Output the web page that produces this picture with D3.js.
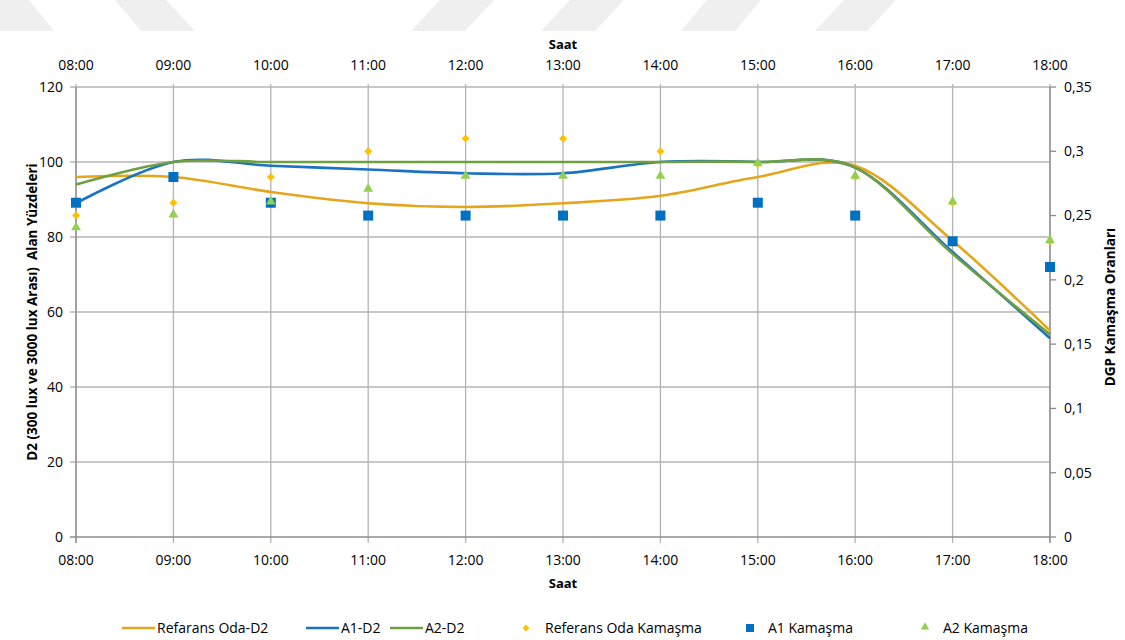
<!DOCTYPE html>
<html>
<head>
<meta charset="utf-8">
<script src="https://cdn.jsdelivr.net/npm/d3@7"></script>
<style>
  body { margin: 0; background: #fff; }
  svg text { font-family: "Open Sans", sans-serif; fill: #000; }
</style>
</head>
<body>
<div id="chart"></div>
<script>
// Chart data
const hours = ["08:00", "09:00", "10:00", "11:00", "12:00", "13:00", "14:00", "15:00", "16:00", "17:00", "18:00"];

// D2 percentages (left axis)
const refD2 = [96, 96, 92, 89, 88, 89, 91, 96, 99, 79, 55];
const a1D2  = [89, 100, 99, 98, 97, 97, 100, 100, 98.5, 76, 53];
const a2D2  = [94, 100, 100, 100, 100, 100, 100, 100, 98.5, 75.5, 54];

// DGP glare ratios (right axis)
const refGlare = [0.25, 0.26, 0.28, 0.30, 0.31, 0.31, 0.30, 0.29, 0.28, 0.26, 0.23];
const a1Glare  = [0.26, 0.28, 0.26, 0.25, 0.25, 0.25, 0.25, 0.26, 0.25, 0.23, 0.21];
const a2Glare  = [0.24, 0.25, 0.26, 0.27, 0.28, 0.28, 0.28, 0.29, 0.28, 0.26, 0.23];

const leftTicks = [0, 20, 40, 60, 80, 100, 120];
const rightTicks = [0, 0.05, 0.1, 0.15, 0.2, 0.25, 0.3, 0.35];

const colors = {
  refLine: "#e5a61c", a1Line: "#1a72c4", a2Line: "#6fa03f",
  refMark: "#ffc000", a1Mark: "#0070c0", a2Mark: "#92d050"
};

const width = 1125, height = 640;
const margin = { top: 87, right: 75, bottom: 103, left: 76 };

const svg = d3.select("#chart").append("svg")
  .attr("width", width)
  .attr("height", height);

// light watermark shapes along the top edge
const watermark = [
  [[0, 0], [29, 0], [54, 31], [0, 31]],
  [[115, 0], [166, 0], [195, 31], [141, 31]],
  [[440, 0], [494, 0], [465, 31], [411, 31]],
  [[570, 0], [624, 0], [595, 31], [541, 31]],
  [[707, 0], [761, 0], [735, 31], [681, 31]],
  [[844, 0], [896, 0], [867, 31], [815, 31]]
];
svg.selectAll(".wm").data(watermark).join("polygon")
  .attr("points", d => d.map(p => p.join(",")).join(" "))
  .attr("fill", "#efefef");

const x = d3.scalePoint()
  .domain(hours)
  .range([margin.left, width - margin.right]);

const yLeft = d3.scaleLinear()
  .domain([0, 120])
  .range([height - margin.bottom, margin.top]);

const yRight = d3.scaleLinear()
  .domain([0, 0.35])
  .range([height - margin.bottom, margin.top]);

const x0 = margin.left, x1 = width - margin.right;
const yTop = margin.top, yBot = height - margin.bottom;

// vertical gridlines
svg.append("g").selectAll("line").data(hours).join("line")
  .attr("x1", d => x(d)).attr("x2", d => x(d))
  .attr("y1", yTop - 3).attr("y2", yBot + 6)
  .attr("stroke", "#b4b4b4").attr("stroke-width", 1.3);

// horizontal gridlines
svg.append("g").selectAll("line").data(leftTicks).join("line")
  .attr("x1", x0 - 6).attr("x2", x1)
  .attr("y1", d => yLeft(d)).attr("y2", d => yLeft(d))
  .attr("stroke", d => d === 0 ? "#8c8c8c" : "#b4b4b4")
  .attr("stroke-width", 1.3);

// axis lines
svg.append("line").attr("x1", x0).attr("x2", x0).attr("y1", yTop).attr("y2", yBot + 6)
  .attr("stroke", "#8c8c8c").attr("stroke-width", 1.3);
svg.append("line").attr("x1", x1).attr("x2", x1).attr("y1", yTop).attr("y2", yBot + 6)
  .attr("stroke", "#8c8c8c").attr("stroke-width", 1.3);

// right axis ticks
svg.append("g").selectAll("line").data(rightTicks).join("line")
  .attr("x1", x1).attr("x2", x1 + 6)
  .attr("y1", d => yRight(d)).attr("y2", d => yRight(d))
  .attr("stroke", "#8c8c8c").attr("stroke-width", 1.3);

// tick labels
svg.append("g").selectAll("text").data(leftTicks).join("text")
  .attr("x", x0 - 13).attr("y", d => yLeft(d))
  .attr("dy", "0.35em").attr("text-anchor", "end")
  .style("font-size", "14px").text(d => d);

const fmtComma = d => String(d).replace(".", ",");
svg.append("g").selectAll("text").data(rightTicks).join("text")
  .attr("x", x1 + 14).attr("y", d => yRight(d))
  .attr("dy", "0.35em").attr("text-anchor", "start")
  .style("font-size", "14px").text(fmtComma);

svg.append("g").selectAll("text").data(hours).join("text")
  .attr("x", d => x(d)).attr("y", 65)
  .attr("dy", "0.35em").attr("text-anchor", "middle")
  .style("font-size", "14px").text(d => d);

svg.append("g").selectAll("text").data(hours).join("text")
  .attr("x", d => x(d)).attr("y", 560)
  .attr("dy", "0.35em").attr("text-anchor", "middle")
  .style("font-size", "14px").text(d => d);

// axis titles
svg.append("text").attr("x", (x0 + x1) / 2).attr("y", 44).attr("dy", "0.35em")
  .attr("text-anchor", "middle").style("font-size", "13px").style("font-weight", "bold")
  .text("Saat");
svg.append("text").attr("x", (x0 + x1) / 2).attr("y", 583).attr("dy", "0.35em")
  .attr("text-anchor", "middle").style("font-size", "13px").style("font-weight", "bold")
  .text("Saat");
svg.append("text")
  .attr("transform", "translate(32," + ((yTop + yBot) / 2) + ") rotate(-90)")
  .attr("dy", "0.35em").attr("text-anchor", "middle")
  .style("font-size", "13.5px").style("font-weight", "bold")
  .style("white-space", "pre")
  .text("D2 (300 lux ve 3000 lux Arası)  Alan Yüzdeleri");
svg.append("text")
  .attr("transform", "translate(1110," + ((yTop + yBot) / 2 - 5) + ") rotate(-90)")
  .attr("dy", "0.35em").attr("text-anchor", "middle")
  .style("font-size", "13.5px").style("font-weight", "bold")
  .text("DGP Kamaşma Oranları");

// smoothed lines
const line = d3.line()
  .x((d, i) => x(hours[i]))
  .y(d => yLeft(d))
  .curve(d3.curveCardinal.tension(0));

const lineSeries = [
  { values: refD2, color: colors.refLine },
  { values: a1D2, color: colors.a1Line },
  { values: a2D2, color: colors.a2Line }
];
svg.append("g").selectAll("path").data(lineSeries).join("path")
  .attr("d", d => line(d.values))
  .attr("fill", "none")
  .attr("stroke", d => d.color)
  .attr("stroke-width", 2.6);

// markers
svg.append("g").selectAll("path").data(refGlare).join("path")
  .attr("transform", (d, i) => "translate(" + x(hours[i]) + "," + yRight(d) + ")")
  .attr("d", d3.symbol(d3.symbolDiamond2, 40))
  .attr("fill", colors.refMark);

svg.append("g").selectAll("rect").data(a1Glare).join("rect")
  .attr("x", (d, i) => x(hours[i]) - 5)
  .attr("y", d => yRight(d) - 5)
  .attr("width", 10).attr("height", 10)
  .attr("fill", colors.a1Mark);

svg.append("g").selectAll("path").data(a2Glare).join("path")
  .attr("transform", (d, i) => "translate(" + x(hours[i]) + "," + (yRight(d) - 1) + ")")
  .attr("d", d3.symbol(d3.symbolTriangle, 42))
  .attr("fill", colors.a2Mark);

// legend
const legendY = 628;
const legend = svg.append("g").style("font-size", "14px");
const lineItems = [
  { label: "Refarans Oda-D2", color: colors.refLine, x: 122 },
  { label: "A1-D2", color: colors.a1Line, x: 306 },
  { label: "A2-D2", color: colors.a2Line, x: 390 }
];
lineItems.forEach(it => {
  legend.append("line").attr("x1", it.x).attr("x2", it.x + 33)
    .attr("y1", legendY).attr("y2", legendY)
    .attr("stroke", it.color).attr("stroke-width", 2.6);
  legend.append("text").attr("x", it.x + 35).attr("y", legendY).attr("dy", "0.35em").text(it.label);
});

legend.append("path").attr("transform", "translate(526," + legendY + ")")
  .attr("d", d3.symbol(d3.symbolDiamond2, 30)).attr("fill", colors.refMark);
legend.append("text").attr("x", 545).attr("y", legendY).attr("dy", "0.35em").text("Referans Oda Kamaşma");

legend.append("rect").attr("x", 746).attr("y", legendY - 4).attr("width", 8).attr("height", 8)
  .attr("fill", colors.a1Mark);
legend.append("text").attr("x", 768).attr("y", legendY).attr("dy", "0.35em").text("A1 Kamaşma");

legend.append("path").attr("transform", "translate(925," + (legendY - 1) + ")")
  .attr("d", d3.symbol(d3.symbolTriangle, 30)).attr("fill", colors.a2Mark);
legend.append("text").attr("x", 943).attr("y", legendY).attr("dy", "0.35em").text("A2 Kamaşma");
</script>
</body>
</html>
